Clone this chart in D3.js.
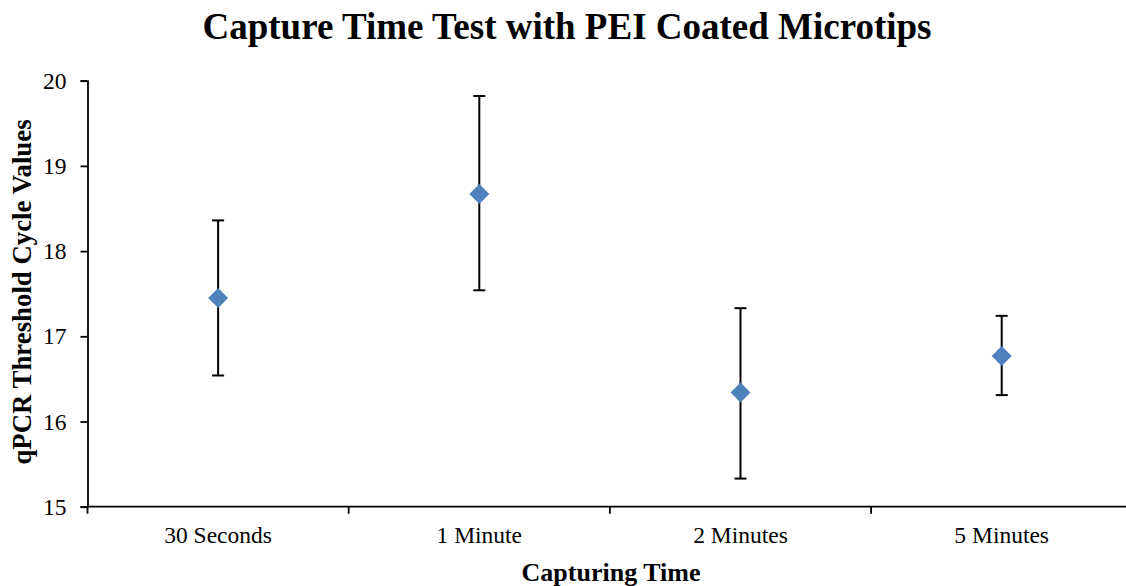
<!DOCTYPE html>
<html>
<head>
<meta charset="utf-8">
<script src="https://cdn.jsdelivr.net/npm/d3@7"></script>
<style>
  body { margin: 0; background: #fff; }
  text { font-family: "Liberation Serif", "Times New Roman", serif; fill: #000; }
</style>
</head>
<body>
<script>
// chart data
var categories = ["30 Seconds", "1 Minute", "2 Minutes", "5 Minutes"];
var means = [17.45, 18.67, 16.34, 16.77];
var upper = [18.36, 19.82, 17.33, 17.24];
var lower = [16.54, 17.54, 15.33, 16.31];
var yTicks = [15, 16, 17, 18, 19, 20];

var width = 1126, height = 586;
var plotLeft = 87.5, plotRight = 1132.3, plotTop = 80.7, plotBottom = 506.7;

var svg = d3.select("body").append("svg")
  .attr("width", width)
  .attr("height", height);

var x = d3.scaleBand().domain(categories).range([plotLeft, plotRight]);
var y = d3.scaleLinear().domain([15, 20]).range([plotBottom, plotTop]);

// title
svg.append("text")
  .attr("x", 567).attr("y", 39)
  .attr("text-anchor", "middle")
  .style("font-size", "37px").style("font-weight", "bold")
  .text("Capture Time Test with PEI Coated Microtips");

// y axis
var yAxis = svg.append("g")
  .attr("transform", "translate(" + plotLeft + ",0)")
  .call(d3.axisLeft(y).tickValues(yTicks).tickSize(7).tickPadding(14).tickFormat(d3.format("d")));
yAxis.select(".domain").attr("stroke", "#000").attr("stroke-width", 1.8);
yAxis.selectAll(".tick line").attr("stroke-width", 1.8);
yAxis.selectAll(".tick text").style("font-size", "23.5px").style("font-family", "Liberation Serif");

// x axis (ticks at category boundaries)
var xAxis = svg.append("g")
  .attr("transform", "translate(0," + plotBottom + ")");
xAxis.append("line")
  .attr("x1", plotLeft).attr("x2", plotRight)
  .attr("stroke", "#000").attr("stroke-width", 1.8);
var bounds = categories.map(function(c) { return x(c); }).concat([plotRight]);
xAxis.selectAll(".xt").data(bounds).enter().append("line")
  .attr("x1", function(d) { return d; }).attr("x2", function(d) { return d; })
  .attr("y1", 0).attr("y2", 7)
  .attr("stroke", "#000").attr("stroke-width", 1.8);
xAxis.selectAll(".xl").data(categories).enter().append("text")
  .attr("x", function(d) { return x(d) + x.bandwidth() / 2; })
  .attr("y", 36)
  .attr("text-anchor", "middle")
  .style("font-size", "23.5px")
  .text(function(d) { return d; });

// axis titles
svg.append("text")
  .attr("x", 611).attr("y", 581)
  .attr("text-anchor", "middle")
  .style("font-size", "26px").style("font-weight", "bold")
  .text("Capturing Time");

svg.append("text")
  .attr("transform", "translate(31,292) rotate(-90)")
  .attr("text-anchor", "middle")
  .style("font-size", "26.8px").style("font-weight", "bold")
  .text("qPCR Threshold Cycle Values");

// error bars
var pts = categories.map(function(c, i) {
  return { cat: c, mean: means[i], hi: upper[i], lo: lower[i] };
});
var cx = function(d) { return x(d.cat) + x.bandwidth() / 2; };

var eb = svg.append("g").selectAll("g").data(pts).enter().append("g");
eb.append("line")
  .attr("x1", cx).attr("x2", cx)
  .attr("y1", function(d) { return y(d.hi); })
  .attr("y2", function(d) { return y(d.lo); })
  .attr("stroke", "#000").attr("stroke-width", 2);
["hi", "lo"].forEach(function(k) {
  eb.append("line")
    .attr("x1", function(d) { return cx(d) - 6; })
    .attr("x2", function(d) { return cx(d) + 6; })
    .attr("y1", function(d) { return y(d[k]); })
    .attr("y2", function(d) { return y(d[k]); })
    .attr("stroke", "#000").attr("stroke-width", 2);
});

// diamond markers
svg.append("g").selectAll("path").data(pts).enter().append("path")
  .attr("d", function(d) {
    var px = cx(d), py = y(d.mean), r = 10;
    return "M" + px + "," + (py - r) + "L" + (px + r) + "," + py +
      "L" + px + "," + (py + r) + "L" + (px - r) + "," + py + "Z";
  })
  .attr("fill", "#4F81BD");
</script>
</body>
</html>
